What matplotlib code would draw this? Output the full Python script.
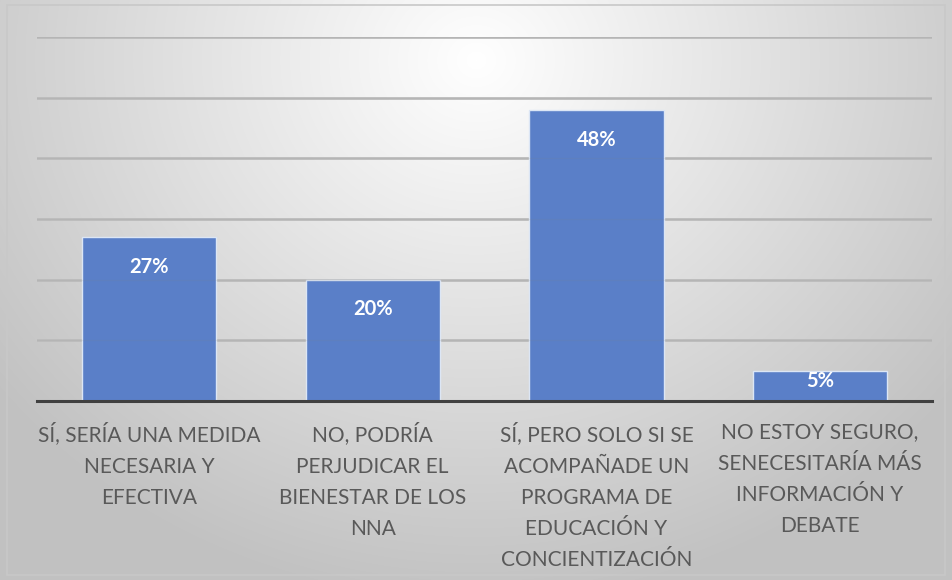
import numpy as np
import matplotlib
matplotlib.use("Agg")
import matplotlib.pyplot as plt
from matplotlib.patches import Rectangle

categories = [
    "SÍ, SERÍA UNA MEDIDA\nNECESARIA Y\nEFECTIVA",
    "NO, PODRÍA\nPERJUDICAR EL\nBIENESTAR DE LOS\nNNA",
    "SÍ, PERO SOLO SI SE\nACOMPAÑADE UN\nPROGRAMA DE\nEDUCACIÓN Y\nCONCIENTIZACIÓN",
    "NO ESTOY SEGURO,\nSENECESITARÍA MÁS\nINFORMACIÓN Y\nDEBATE",
]
values = [27, 20, 48, 5]
labels = ["27%", "20%", "48%", "5%"]

W, H = 952, 580
fig = plt.figure(figsize=(W / 100, H / 100), dpi=100)

# fondo con degradado radial
bg = fig.add_axes([0, 0, 1, 1], zorder=-10)
yy, xx = np.mgrid[0:H, 0:W]
r = np.sqrt(((xx - 476) / 600.0) ** 2 + ((yy - 60) / 540.0) ** 2)
r = np.clip(r, 0, 1)
shade = 1.0 - 0.24 * r
bg.imshow(np.dstack([shade, shade, shade]), aspect="auto", extent=[0, W, H, 0])
bg.add_patch(Rectangle((7, 5), W - 14, H - 10, fill=False, edgecolor="#c8c8c8", linewidth=1.2))
bg.set_xlim(0, W)
bg.set_ylim(H, 0)
bg.axis("off")

left, right = 37 / W, 932 / W
bottom, top = 1 - 401 / H, 1 - 37 / H
ax = fig.add_axes([left, bottom, right - left, top - bottom])
ax.patch.set_alpha(0)

x = np.arange(len(values))
bars = ax.bar(x, values, width=0.6, color="#5a7fc8", edgecolor="#dce6f5",
              linewidth=1.0, zorder=2)
ax.set_xlim(-0.5, len(values) - 0.5)
ax.set_ylim(0, 60)
ax.set_yticks(np.arange(10, 61, 10))
ax.yaxis.grid(True, color="#bdbdbd", linewidth=2.0, zorder=1)
ax.set_axisbelow(True)
for yv in np.arange(10, 61, 10):
    ax.axhline(yv, color="#7f7f7f", linewidth=1.0, alpha=0.12, zorder=3)
ax.tick_params(axis="y", left=False, labelleft=False)
ax.tick_params(axis="x", bottom=False, pad=12)
for s in ["top", "right", "left"]:
    ax.spines[s].set_visible(False)
ax.spines["bottom"].set_color("#404040")
ax.spines["bottom"].set_linewidth(2.2)
ax.spines["bottom"].set_zorder(4)

ax.set_xticks(x)
ax.set_xticklabels(categories, fontsize=15, color="#595959", family="Lato",
                   linespacing=1.7, va="top")

for b, lab in zip(bars, labels):
    h = b.get_height()
    ypos = max(h - 4.9, h * 0.5 + 0.8)
    ax.text(b.get_x() + b.get_width() / 2, ypos, lab,
            ha="center", va="center", color="white", fontsize=14.5,
            fontweight="bold", family="Lato", zorder=5)

fig.savefig("out.png", dpi=100)
